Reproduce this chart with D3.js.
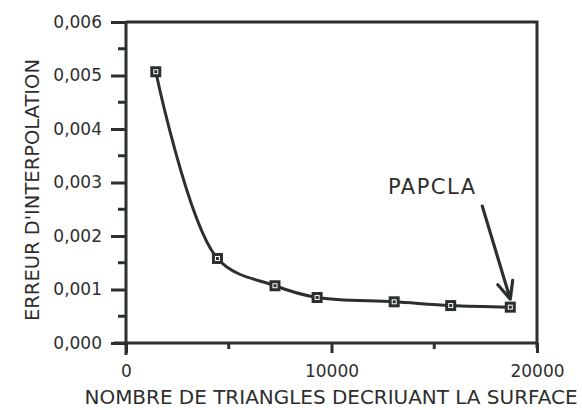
<!DOCTYPE html>
<html>
<head>
<meta charset="utf-8">
<script src="https://cdn.jsdelivr.net/npm/d3@7"></script>
<style>
  html, body { margin: 0; padding: 0; background: #ffffff; }
  svg { display: block; }
  text { font-family: "DejaVu Sans", sans-serif; fill: #2e2e2e; }
</style>
</head>
<body>
<svg id="chart" width="582" height="410"></svg>
<script>
// Interpolation error versus number of triangles describing the surface
const triangles = [1450, 4450, 7250, 9300, 13050, 15800, 18700];
const erreur = [0.00507, 0.00158, 0.00107, 0.00085, 0.00077, 0.00070, 0.00067];
const xTicks = [0, 10000, 20000];
const xMinorTicks = [5000, 15000];
const yTicks = [0, 0.001, 0.002, 0.003, 0.004, 0.005, 0.006];
const yMinorTicks = [0.0005, 0.0015, 0.0025, 0.0035, 0.0045, 0.0055];
const annotation = "PAPCLA";

const ink = "#2b2f2d";
const svg = d3.select("#chart");

const x = d3.scaleLinear().domain([0, 20000]).range([126, 537]);
const y = d3.scaleLinear().domain([0, 0.006]).range([343, 22]);
const fmtY = v => d3.format(".3f")(v).replace(".", ",");

// frame: top and right border
svg.append("path")
  .attr("d", `M${x(0)},${y(0.006)} H${x(20000)} V${y(0) + 5}`)
  .attr("fill", "none").attr("stroke", ink).attr("stroke-width", 3);

// Y axis
const yAxis = svg.append("g").attr("transform", `translate(${x(0)},0)`);
yAxis.call(d3.axisLeft(y).tickValues(yTicks).tickSize(15).tickPadding(9).tickFormat(fmtY));
yAxis.select(".domain").remove();
yAxis.append("line").attr("x1", 0).attr("x2", 0).attr("y1", y(0.006)).attr("y2", y(0) + 12)
  .attr("stroke", ink).attr("stroke-width", 3);
yAxis.selectAll(".tick line").attr("stroke", ink).attr("stroke-width", 3);
yAxis.selectAll("text").attr("font-size", 17).attr("fill", "#2e2e2e")
  .attr("font-family", "DejaVu Sans, sans-serif");
yAxis.selectAll(".minor").data(yMinorTicks).enter().append("line")
  .attr("x1", -8).attr("x2", 0).attr("y1", d => y(d)).attr("y2", d => y(d))
  .attr("stroke", ink).attr("stroke-width", 3);

// X axis
const xAxis = svg.append("g").attr("transform", `translate(0,${y(0)})`);
xAxis.call(d3.axisBottom(x).tickValues(xTicks).tickSize(10).tickPadding(12).tickFormat(d3.format("d")));
xAxis.select(".domain").remove();
xAxis.append("line").attr("x1", x(0) - 12).attr("x2", x(20000)).attr("y1", 0).attr("y2", 0)
  .attr("stroke", ink).attr("stroke-width", 3);
xAxis.selectAll(".tick line").attr("stroke", ink).attr("stroke-width", 3);
xAxis.selectAll("text").attr("font-size", 17).attr("fill", "#2e2e2e")
  .attr("font-family", "DejaVu Sans, sans-serif");
xAxis.selectAll(".minor").data(xMinorTicks).enter().append("line")
  .attr("x1", d => x(d)).attr("x2", d => x(d)).attr("y1", 0).attr("y2", 6)
  .attr("stroke", ink).attr("stroke-width", 3);

// axis titles
svg.append("text")
  .attr("transform", "translate(39,190) rotate(-90)")
  .attr("text-anchor", "middle")
  .attr("font-size", 19.5)
  .attr("textLength", 262).attr("lengthAdjust", "spacingAndGlyphs")
  .text("ERREUR D'INTERPOLATION");

svg.append("text")
  .attr("x", 331).attr("y", 404)
  .attr("text-anchor", "middle")
  .attr("font-size", 19)
  .attr("textLength", 493).attr("lengthAdjust", "spacingAndGlyphs")
  .text("NOMBRE DE TRIANGLES DECRIUANT LA SURFACE");

// curve
const pts = triangles.map((t, i) => [t, erreur[i]]);
svg.append("path")
  .datum(pts)
  .attr("fill", "none").attr("stroke", ink).attr("stroke-width", 3)
  .attr("d", d3.line().x(d => x(d[0])).y(d => y(d[1])).curve(d3.curveCatmullRom.alpha(0.5)));

// square markers
const m = svg.append("g").selectAll("g").data(pts).enter().append("g")
  .attr("transform", d => `translate(${x(d[0])},${y(d[1])})`);
m.append("rect").attr("x", -5.5).attr("y", -5.5).attr("width", 11).attr("height", 11)
  .attr("fill", ink);
m.append("rect").attr("x", -2).attr("y", -2).attr("width", 4).attr("height", 4)
  .attr("fill", "none").attr("stroke", "#ffffff").attr("stroke-width", 1);

// annotation with arrow to the last point
const last = pts[pts.length - 1];
const tipX = x(last[0]), tipY = y(last[1]) - 8;
const tailX = tipX - 28, tailY = tipY - 93;
svg.append("text")
  .attr("x", tailX - 50).attr("y", tailY - 12)
  .attr("font-size", 21).attr("letter-spacing", 1.5)
  .attr("text-anchor", "middle")
  .text(annotation);
const ang = Math.atan2(tipY - tailY, tipX - tailX);
const barb = 19, spread = 0.42;
svg.append("path")
  .attr("d", `M${tailX},${tailY} L${tipX},${tipY}` +
    ` M${tipX - barb * Math.cos(ang - spread)},${tipY - barb * Math.sin(ang - spread)} L${tipX},${tipY}` +
    ` L${tipX - barb * Math.cos(ang + spread)},${tipY - barb * Math.sin(ang + spread)}`)
  .attr("fill", "none").attr("stroke", ink).attr("stroke-width", 3.2)
  .attr("stroke-linecap", "round").attr("stroke-linejoin", "round");
</script>
</body>
</html>
